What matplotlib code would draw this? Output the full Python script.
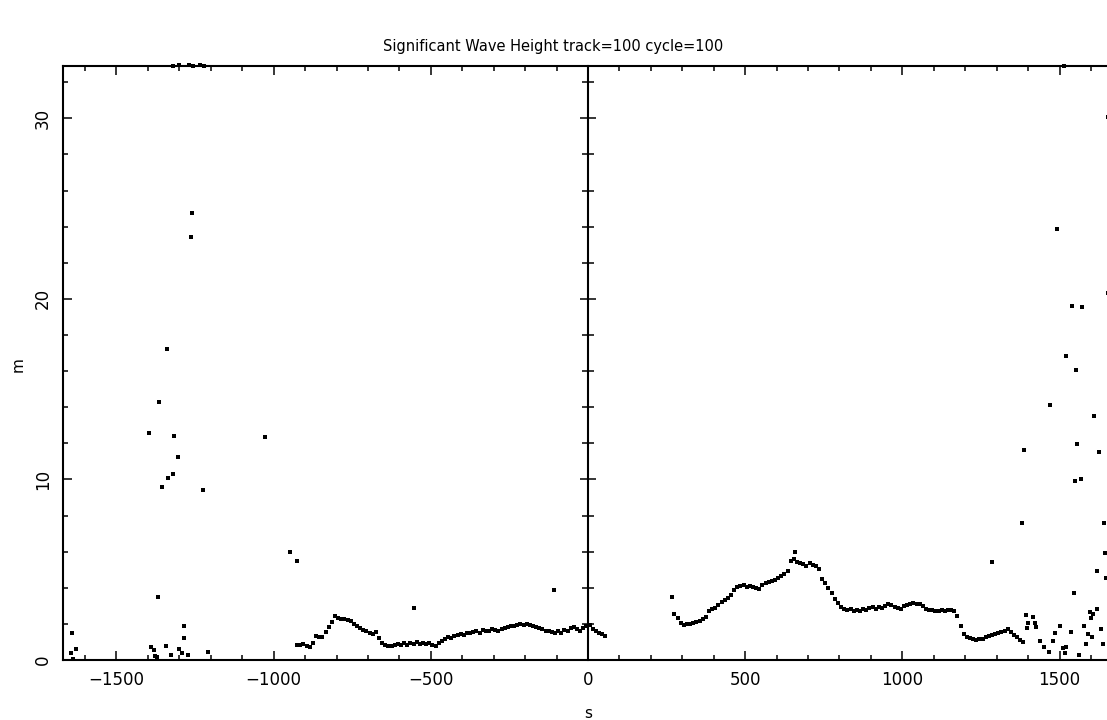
import numpy as np
import matplotlib
matplotlib.use("Agg")
import matplotlib.pyplot as plt
from matplotlib.ticker import MultipleLocator

# along-track distance (km) and significant wave height (m)
seg1_s = [-925, -915, -905, -895, -885, -875, -865, -855, -845, -835, -825, -815,
          -805, -795, -785, -775, -765, -755, -745, -735, -725, -715, -705, -695,
          -685, -675, -665, -655, -645, -635, -625, -615, -605, -595, -585, -575,
          -565, -555, -545, -535, -525, -515, -505, -495, -485, -475, -465, -455,
          -445, -435, -425, -415, -405, -395, -385, -375, -365, -355, -345, -335,
          -325, -315, -305, -295, -285, -275, -265, -255, -245, -235, -225, -215,
          -205, -195, -185, -175, -165, -155, -145, -135, -125, -115, -105, -95,
          -85, -75, -65, -55, -45, -35, -25, -15, -5, 5, 15, 25, 35, 45, 55]
seg1_h = [0.85, 0.82, 0.90, 0.78, 0.72, 0.95, 1.35, 1.25, 1.30, 1.55, 1.85, 2.10,
          2.45, 2.35, 2.25, 2.28, 2.20, 2.15, 2.00, 1.90, 1.78, 1.65, 1.60, 1.50,
          1.45, 1.55, 1.20, 0.95, 0.82, 0.75, 0.80, 0.85, 0.88, 0.82, 0.92, 0.85,
          0.95, 0.88, 0.98, 0.90, 0.95, 0.87, 0.92, 0.85, 0.80, 0.95, 1.05, 1.15,
          1.25, 1.20, 1.35, 1.40, 1.45, 1.38, 1.50, 1.48, 1.55, 1.60, 1.52, 1.65,
          1.58, 1.62, 1.70, 1.65, 1.60, 1.72, 1.80, 1.85, 1.90, 1.88, 1.95, 1.98,
          1.95, 2.00, 1.92, 1.88, 1.82, 1.75, 1.70, 1.62, 1.58, 1.55, 1.50, 1.58,
          1.52, 1.68, 1.60, 1.78, 1.82, 1.70, 1.62, 1.75, 1.90, 1.95, 1.72, 1.60,
          1.50, 1.45, 1.35]

seg2_s = [275, 285, 295, 305, 315, 325, 335, 345, 355, 365, 375, 385, 395, 405,
          415, 425, 435, 445, 455, 465, 475, 485, 495, 505, 515, 525, 535, 545,
          555, 565, 575, 585, 595, 605, 615, 625, 635, 645, 655, 665, 675, 685,
          695, 705, 715, 725, 735, 745, 755, 765, 775, 785, 795, 805, 815, 825,
          835, 845, 855, 865, 875, 885, 895, 905, 915, 925, 935, 945, 955, 965,
          975, 985, 995, 1005, 1015, 1025, 1035, 1045, 1055, 1065, 1075, 1085,
          1095, 1105, 1115, 1125, 1135, 1145, 1155, 1165, 1175, 1185, 1195, 1205,
          1215, 1225, 1235, 1245, 1255, 1265, 1275, 1285, 1295, 1305, 1315, 1325,
          1335, 1345, 1355, 1365, 1375, 1385]
seg2_h = [2.55, 2.30, 2.05, 1.95, 2.00, 2.02, 2.05, 2.10, 2.18, 2.25, 2.40, 2.70,
          2.80, 2.90, 3.05, 3.20, 3.35, 3.45, 3.60, 3.90, 4.05, 4.10, 4.15, 4.05,
          4.10, 4.05, 3.98, 3.95, 4.15, 4.25, 4.30, 4.40, 4.45, 4.55, 4.65, 4.75,
          4.95, 5.50, 5.60, 5.45, 5.40, 5.30, 5.20, 5.35, 5.25, 5.20, 5.05, 4.50,
          4.25, 4.00, 3.70, 3.40, 3.15, 2.95, 2.85, 2.78, 2.80, 2.70, 2.75, 2.72,
          2.80, 2.78, 2.88, 2.92, 2.85, 2.95, 2.90, 3.00, 3.08, 3.05, 2.95, 2.88,
          2.85, 3.00, 3.05, 3.12, 3.15, 3.10, 3.08, 2.98, 2.85, 2.78, 2.75, 2.72,
          2.70, 2.75, 2.72, 2.78, 2.75, 2.72, 2.45, 1.90, 1.45, 1.28, 1.20, 1.15,
          1.12, 1.15, 1.18, 1.25, 1.35, 1.40, 1.45, 1.50, 1.55, 1.62, 1.70, 1.55,
          1.40, 1.25, 1.10, 1.00]

# isolated / noisy samples
out_s = [-1320, -1300, -1270, -1255, -1235, -1220,
         -1259, -1264, -1340, -1365, -1396, -1317, -1027, -1303, -1320, -1335,
         -1355, -1225, -948, -926, -1368, -1640, -1630, -1643, -1637, -1389,
         -1381, -1378, -1371, -1343, -1328, -1285, -1286, -1301, -1290, -1272,
         -1210, -554, -109, 268, 659,
         1513, 1492, 1539, 1570, 1521, 1553, 1470, 1610, 1555, 1626, 1388, 1550,
         1567, 1382, 1640, 1286, 1645, 1619, 1648, 1545, 1596, 1619, 1601, 1579,
         1592, 1603, 1584, 1633, 1637, 1394, 1415, 1400, 1421, 1397, 1426, 1439,
         1449, 1465, 1478, 1486, 1502, 1511, 1521, 1537, 1518, 1562, 1607, 1655,
         1655]
out_h = [32.9, 32.95, 32.95, 32.9, 32.95, 32.9,
         24.76, 23.43, 17.21, 14.3, 12.6, 12.41, 12.36, 11.22, 10.29, 10.09,
         9.6, 9.4, 6.0, 5.5, 3.5, 1.51, 0.61, 0.37, 0.04, 0.7,
         0.55, 0.22, 0.15, 0.79, 0.26, 1.9, 1.2, 0.59, 0.37, 0.26,
         0.46, 2.86, 3.87, 3.47, 5.99,
         32.9, 23.89, 19.61, 19.55, 16.82, 16.05, 14.11, 13.5, 11.99, 11.5, 11.62, 9.92,
         10.02, 7.6, 7.6, 5.41, 5.9, 4.93, 4.52, 3.69, 2.67, 2.82, 2.3, 1.88,
         1.44, 1.29, 0.89, 1.7, 0.87, 2.49, 2.36, 2.03, 2.03, 1.75, 1.85, 1.07,
         0.74, 0.46, 1.07, 1.48, 1.88, 0.64, 0.74, 1.57, 0.41, 0.28, 2.55, 30.07,
         20.3]

W, H = 1107, 720
fig = plt.figure(figsize=(W / 100, H / 100), dpi=100)
ax = fig.add_axes([63 / W, 60 / H, 1050 / W, 594 / H])

mk = dict(linestyle='none', marker='s', ms=2.4, mew=0, color='black', clip_on=False)
ax.plot(seg1_s, seg1_h, **mk)
ax.plot(seg2_s, seg2_h, **mk)
ax.plot(out_s, out_h, **mk)

ax.set_xlim(-1670, 1670)
ax.set_ylim(0, 32.9)

ax.xaxis.set_major_locator(MultipleLocator(500))
ax.xaxis.set_minor_locator(MultipleLocator(100))
ax.yaxis.set_major_locator(MultipleLocator(10))
ax.yaxis.set_minor_locator(MultipleLocator(2))
ax.tick_params(which='both', direction='in', top=True, right=False, width=1.1,
               labelsize=12)
ax.tick_params(which='major', length=6.5)
ax.tick_params(which='minor', length=3.5)
ax.tick_params(axis='x', pad=8)
ax.tick_params(axis='y', pad=8)
for lab in ax.get_yticklabels():
    lab.set_rotation(90)
    lab.set_va('center')
for side in ['left', 'top', 'bottom', 'right']:
    ax.spines[side].set_linewidth(1.5)

# vertical axis line through s=0 with ticks on both sides
mid = ax.secondary_yaxis(0.5)
mid.yaxis.set_major_locator(MultipleLocator(10))
mid.yaxis.set_minor_locator(MultipleLocator(2))
mid.tick_params(which='both', direction='inout', width=1.1, labelleft=False,
                labelright=False)
mid.tick_params(which='major', length=12)
mid.tick_params(which='minor', length=8)
for sp in mid.spines.values():
    sp.set_linewidth(1.5)

fig.text(0.5, 1 - 47 / H, 'Significant Wave Height track=100 cycle=100',
         ha='center', va='center', fontsize=10.5)
fig.text(588 / W, 1 - 714 / H, 's', ha='center', va='center', fontsize=11)
fig.text(18 / W, 1 - 365 / H, 'm', ha='center', va='center', fontsize=11,
         rotation=90)

fig.savefig('out.png', dpi=100)
